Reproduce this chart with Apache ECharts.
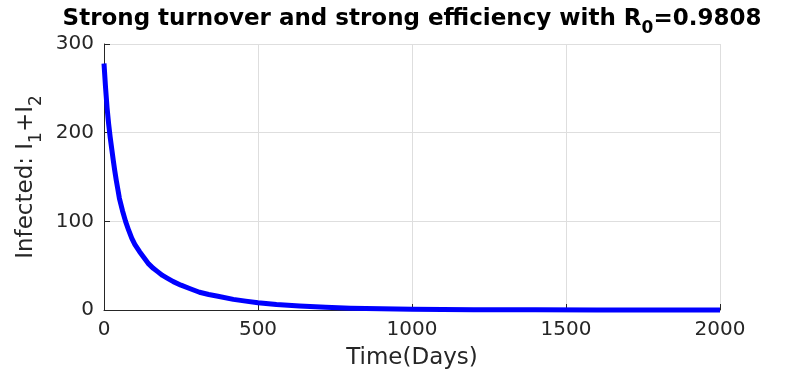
<!DOCTYPE html>
<html>
<head>
<meta charset="utf-8">
<script src="https://cdn.jsdelivr.net/npm/echarts@6/dist/echarts.min.js"></script>
<style>
html,body{margin:0;padding:0;background:#fff;}
#chart{width:797px;height:374px;}
</style>
</head>
<body>
<div id="chart"></div>
<script>
const days = [0, 5, 10, 15, 20, 25, 30, 35, 40, 45, 50, 60, 70, 80, 90, 100, 115, 130, 145, 160, 175, 190, 205, 225, 250, 280, 310, 340, 370, 420, 460, 500, 560, 635, 720, 800, 900, 1000, 1100, 1200, 1400, 1600, 1800, 2000];
const infected = [278, 251, 228, 210, 195, 182, 169, 157, 146, 136, 126, 112, 100, 90, 81, 74, 66, 59, 52, 47, 43, 39, 36, 32, 28, 24, 20, 17.5, 15.5, 12, 10, 8.2, 6.2, 4.5, 3, 2, 1.3, 0.8, 0.5, 0.3, 0.15, 0.08, 0.04, 0.02];
const xTicks = [0, 500, 1000, 1500, 2000];
const yTicks = [0, 100, 200, 300];

const chart = echarts.init(document.getElementById('chart'), null, {renderer: 'canvas'});
const font = 'DejaVu Sans';
const ink = '#262626';
const gridColor = '#dedede';

chart.setOption({
  animation: false,
  backgroundColor: '#ffffff',
  title: {
    text: '{m|Strong turnover and strong efficiency with R}{s|0}{m|=0.9808}',
    left: 412,
    textAlign: 'center',
    top: 8,
    padding: 0,
    textStyle: {
      rich: {
        m: {fontFamily: font, fontWeight: 'bold', fontSize: 23, color: '#000', lineHeight: 24, verticalAlign: 'top'},
        s: {fontFamily: font, fontWeight: 'bold', fontSize: 17, color: '#000', lineHeight: 42, verticalAlign: 'middle'}
      }
    }
  },
  grid: {left: 104, right: 77, top: 44, bottom: 64, containLabel: false, outerBoundsMode: 'none'},
  xAxis: {
    type: 'value',
    min: xTicks[0], max: xTicks[xTicks.length - 1], interval: 500,
    name: 'Time(Days)',
    nameLocation: 'middle',
    nameGap: 37,
    nameTextStyle: {fontFamily: font, fontSize: 23, color: ink},
    axisLine: {show: true, onZero: false, lineStyle: {color: ink, width: 1}},
    axisTick: {show: true, inside: true, length: 6, lineStyle: {color: ink}},
    axisLabel: {fontFamily: font, fontSize: 20, color: ink, margin: 10, formatter: v => String(v)},
    splitLine: {show: true, lineStyle: {color: gridColor, width: 1}}
  },
  yAxis: {
    type: 'value',
    min: yTicks[0], max: yTicks[yTicks.length - 1], interval: 100,
    name: '{m|Infected: I}{s|1}{m|+I}{s|2}',
    nameLocation: 'middle',
    nameRotate: 90,
    nameGap: 44,
    nameTextStyle: {
      rich: {
        m: {fontFamily: font, fontSize: 23, color: ink, lineHeight: 24, verticalAlign: 'top'},
        s: {fontFamily: font, fontSize: 17, color: ink, lineHeight: 44, verticalAlign: 'middle'}
      }
    },
    axisLine: {show: true, onZero: false, lineStyle: {color: ink, width: 1}},
    axisTick: {show: true, inside: true, length: 6, lineStyle: {color: ink}},
    axisLabel: {fontFamily: font, fontSize: 20, color: ink, margin: 10, formatter: v => String(v)},
    splitLine: {show: true, lineStyle: {color: gridColor, width: 1}}
  },
  series: [{
    type: 'line',
    data: days.map((d, i) => [d, infected[i]]),
    showSymbol: false,
    smooth: false,
    lineStyle: {color: '#0000ff', width: 5, join: 'round'},
    itemStyle: {color: '#0000ff'},
    clip: false
  }]
});
</script>
</body>
</html>
